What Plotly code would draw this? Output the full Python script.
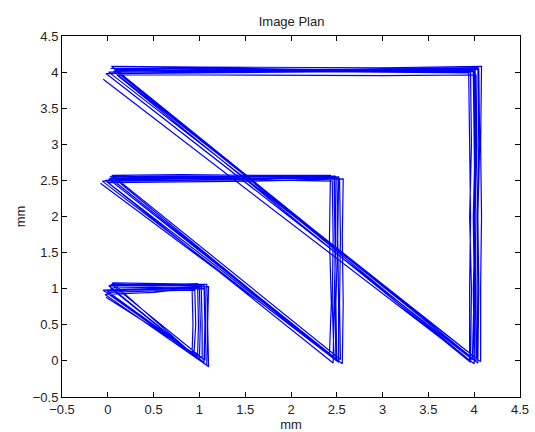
import plotly.graph_objects as go

# Measured scan paths (mm), one continuous path per triangle, several passes each.
large_x = [
    0.03, 1.0, 2.0, 3.0, 4.05, 4.06, 4.04, 4.05, 4.04,
    0.08, 1.0, 2.0, 3.0, 4.00, 4.01, 3.99, 4.00, 3.98,
    -0.02, 1.0, 2.0, 3.0, 3.96, 3.97, 3.95, 3.97, 3.96,
    0.10, 1.0, 2.0, 3.0, 4.02, 4.03, 4.01, 4.02, 4.02,
    0.04, 1.0, 2.0, 3.0, 4.08, 4.07, 4.08, 4.07, 4.07,
    0.06, 1.0, 2.0, 3.0, 3.99, 4.00, 4.01, 3.99, 4.00,
    0.07, 1.0, 2.0, 3.0, 4.04, 4.05, 4.03, 4.04, 4.03,
    0.01, 1.0, 2.0, 3.0, 3.94, 3.95, 3.96, 3.95, 3.95,
    0.09, 1.0, 2.0, 3.0, 4.01, 4.02, 4.00, 4.01, 4.00,
    -0.05,
]
large_y = [
    4.05, 4.06, 4.04, 4.03, 4.04, 3.0, 2.0, 1.0, -0.03,
    4.02, 4.03, 4.02, 4.02, 4.02, 3.0, 2.0, 1.0, 0.02,
    3.98, 3.99, 4.00, 4.01, 4.00, 3.0, 2.0, 1.0, -0.02,
    3.96, 3.96, 3.95, 3.95, 3.96, 3.0, 2.0, 1.0, 0.00,
    4.08, 4.07, 4.06, 4.06, 4.08, 3.0, 2.0, 1.0, -0.01,
    4.01, 4.00, 4.01, 4.00, 4.01, 3.0, 2.0, 1.0, 0.01,
    4.04, 4.05, 4.03, 4.04, 4.06, 3.0, 2.0, 1.0, 0.03,
    4.00, 4.01, 4.02, 4.00, 3.99, 3.0, 2.0, 1.0, 0.01,
    4.03, 4.02, 4.03, 4.04, 4.05, 3.0, 2.0, 1.0, -0.04,
    3.90,
]

medium_x = [
    0.02, 0.8, 1.6, 2.48, 2.49, 2.47, 2.46,
    -0.03, 0.8, 1.6, 2.53, 2.54, 2.53, 2.54,
    0.05, 0.8, 1.6, 2.43, 2.42, 2.44, 2.42,
    0.00, 0.8, 1.6, 2.57, 2.56, 2.57, 2.56,
    0.03, 0.8, 1.6, 2.50, 2.51, 2.49, 2.50,
    -0.06, 0.8, 1.6, 2.45, 2.46, 2.45, 2.47,
    0.01, 0.8, 1.6, 2.52, 2.51, 2.52, 2.52,
    0.04, 0.8, 1.6, 2.47, 2.48, 2.48, 2.49,
    -0.08,
]
medium_y = [
    2.55, 2.56, 2.55, 2.56, 1.7, 0.8, -0.03,
    2.50, 2.52, 2.53, 2.52, 1.7, 0.8, 0.02,
    2.57, 2.58, 2.57, 2.57, 1.7, 0.8, 0.10,
    2.47, 2.48, 2.49, 2.52, 1.7, 0.8, -0.04,
    2.53, 2.54, 2.53, 2.54, 1.7, 0.8, 0.00,
    2.49, 2.50, 2.51, 2.49, 1.7, 0.8, 0.05,
    2.52, 2.53, 2.52, 2.55, 1.7, 0.8, -0.02,
    2.56, 2.55, 2.56, 2.53, 1.7, 0.8, 0.03,
    2.46,
]

small_x = [
    0.02, 0.5, 1.05, 1.06, 1.05,
    0.00, 0.5, 0.95, 0.96, 0.94,
    0.05, 0.5, 1.08, 1.09, 1.08,
    -0.03, 0.5, 1.00, 1.01, 1.00,
    0.03, 0.5, 0.92, 0.93, 0.92,
    -0.05, 0.5, 1.10, 1.09, 1.10,
    0.01, 0.5, 1.02, 1.03, 1.03,
    0.04, 0.5, 0.98, 0.99, 0.98,
    -0.01, 0.5, 1.06, 1.07, 1.06,
    -0.02,
]
small_y = [
    1.05, 1.06, 1.05, 0.5, -0.02,
    0.95, 0.97, 0.98, 0.5, 0.08,
    1.08, 1.07, 1.06, 0.5, -0.06,
    0.92, 0.95, 1.02, 0.5, 0.02,
    1.01, 1.02, 1.00, 0.5, 0.10,
    0.98, 1.00, 1.03, 0.5, -0.08,
    1.04, 1.04, 1.04, 0.5, 0.04,
    1.06, 1.05, 1.07, 0.5, 0.06,
    0.97, 0.99, 1.00, 0.5, 0.01,
    0.88,
]

paths = [(large_x, large_y), (medium_x, medium_y), (small_x, small_y)]

fig = go.Figure()
for px, py in paths:
    fig.add_trace(go.Scatter(
        x=px, y=py, mode="lines",
        line=dict(color="rgb(0,0,255)", width=1.2),
        showlegend=False, hoverinfo="skip",
    ))

font = dict(family="Liberation Sans, Arial, sans-serif", size=13, color="#222222")

axis_style = dict(
    range=[-0.5, 4.5], dtick=0.5, tick0=-0.5,
    showgrid=False, zeroline=False, automargin=False,
    showline=True, linecolor="black", linewidth=1, mirror="ticks",
    ticks="inside", ticklen=5, tickcolor="black",
    tickfont=font,
)

fig.update_layout(
    width=535, height=432,
    margin=dict(l=62, r=15, t=36, b=35),
    paper_bgcolor="white", plot_bgcolor="white",
    title=dict(text="Image Plan", x=0.545, xanchor="center", y=1 - 21 / 432, yanchor="middle",
               font=font),
    xaxis=dict(**axis_style, title=dict(text="mm", font=font, standoff=5)),
    yaxis=dict(**axis_style, title=dict(text="mm", font=font, standoff=4)),
)

fig.write_html("out.html")
